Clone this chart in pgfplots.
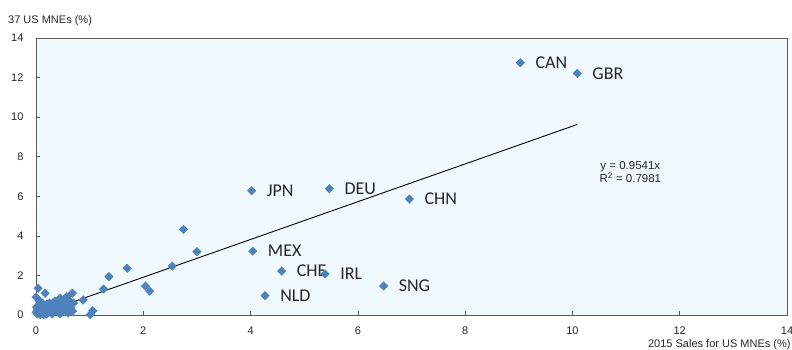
\documentclass[border=0pt]{standalone}
\usepackage{pgfplots}
\pgfplotsset{compat=1.18}
\usepackage{fontspec}
\setmainfont{Liberation Sans}
\newfontfamily\calib{Carlito}
\definecolor{bgblue}{RGB}{240,249,253}
\definecolor{mkblue}{RGB}{79,129,189}
\definecolor{axgray}{RGB}{89,89,89}
\definecolor{txt}{RGB}{38,38,38}
\begin{document}
\begin{tikzpicture}
\path[use as bounding box] (-36pt,-34pt) rectangle (756pt,315pt);
\begin{axis}[
  scale only axis,
  width=751pt, height=277pt,
  xmin=0, xmax=14, ymin=0, ymax=14,
  xtick={0,2,...,14}, ytick={0,2,...,14},
  axis background/.style={fill=bgblue},
  axis line style={axgray, line width=0.8pt},
  tick style={axgray, line width=0.7pt},
  major tick length=4pt,
  tick align=inside,
  xtick pos=bottom, ytick pos=left,
  tick label style={font=\fontsize{11}{12}\selectfont, text=txt},
  /pgf/number format/assume math mode=true,
  xticklabel style={yshift=-8.5pt},
  yticklabel style={xshift=-9pt},
  xlabel={2015 Sales for US MNEs (\%)},
  ylabel={37 US MNEs (\%)},
  label style={font=\fontsize{11}{12}\selectfont, text=txt},
  xlabel style={at={(axis description cs:1.005,-0.106)}, anchor=east, inner sep=0pt},
  ylabel style={rotate=-90, at={(axis description cs:-0.0373,1.063)}, anchor=west, inner sep=0pt},
  clip=false,
]
% cluster and unlabeled countries
\addplot[only marks, mark=square*, mark size=3pt, mark options={rotate=45, fill=mkblue, draw=mkblue}] coordinates {
(0.02,0.05) (0.05,0.12) (0.08,0.02) (0.10,0.20) (0.12,0.08) (0.15,0.30)
(0.18,0.15) (0.20,0.05) (0.22,0.40) (0.25,0.22) (0.28,0.10) (0.30,0.35)
(0.33,0.50) (0.35,0.18) (0.38,0.28) (0.40,0.45) (0.42,0.12) (0.45,0.55)
(0.48,0.32) (0.50,0.20) (0.52,0.62) (0.55,0.40) (0.58,0.30) (0.60,0.50)
(0.62,0.72) (0.65,0.35) (0.70,0.60) (0.03,0.30) (0.05,0.50) (0.07,0.70)
(0.10,0.45) (0.12,0.60) (0.00,0.15) (0.01,0.40) (0.15,0.02) (0.25,0.60)
(0.30,0.05) (0.35,0.70) (0.08,0.35) (0.20,0.55) (0.45,0.05) (0.60,0.10)
(0.68,0.20) (0.04,1.35) (0.17,1.10) (0.00,0.90) (0.45,0.85) (0.48,0.60)
(0.57,0.92) (0.68,1.10) (0.88,0.76) (1.06,0.22) (1.01,0.02) (1.26,1.31)
(1.36,1.94) (1.70,2.36) (2.04,1.46) (2.12,1.21) (2.54,2.47) (2.75,4.33)
(3.00,3.20)
};
% labelled countries
\addplot[only marks, mark=square*, mark size=3pt, mark options={rotate=45, fill=mkblue, draw=mkblue},
  point meta=explicit symbolic,
  nodes near coords,
  nodes near coords style={anchor=west, inner sep=0pt, xshift=15pt, text=txt, font=\calib\fontsize{18}{20}\selectfont},
] coordinates {
(9.03,12.75) [CAN]
(10.09,12.21) [GBR]
(4.02,6.28) [JPN]
(5.47,6.38) [DEU]
(6.96,5.86) [CHN]
(4.04,3.23) [MEX]
(4.58,2.22) [CHE]
(5.39,2.07) [IRL]
(6.48,1.47) [SNG]
(4.27,0.98) [NLD]
};
% trend line
\addplot[black, line width=0.9pt] coordinates {(0,0) (10.09,9.63)};
\node[align=center, text=txt, font=\fontsize{11.5}{13.5}\selectfont] at (axis cs:11.08,7.23) {y = 0.9541x\\R\textsuperscript{2} = 0.7981};
\end{axis}
\end{tikzpicture}
\end{document}
